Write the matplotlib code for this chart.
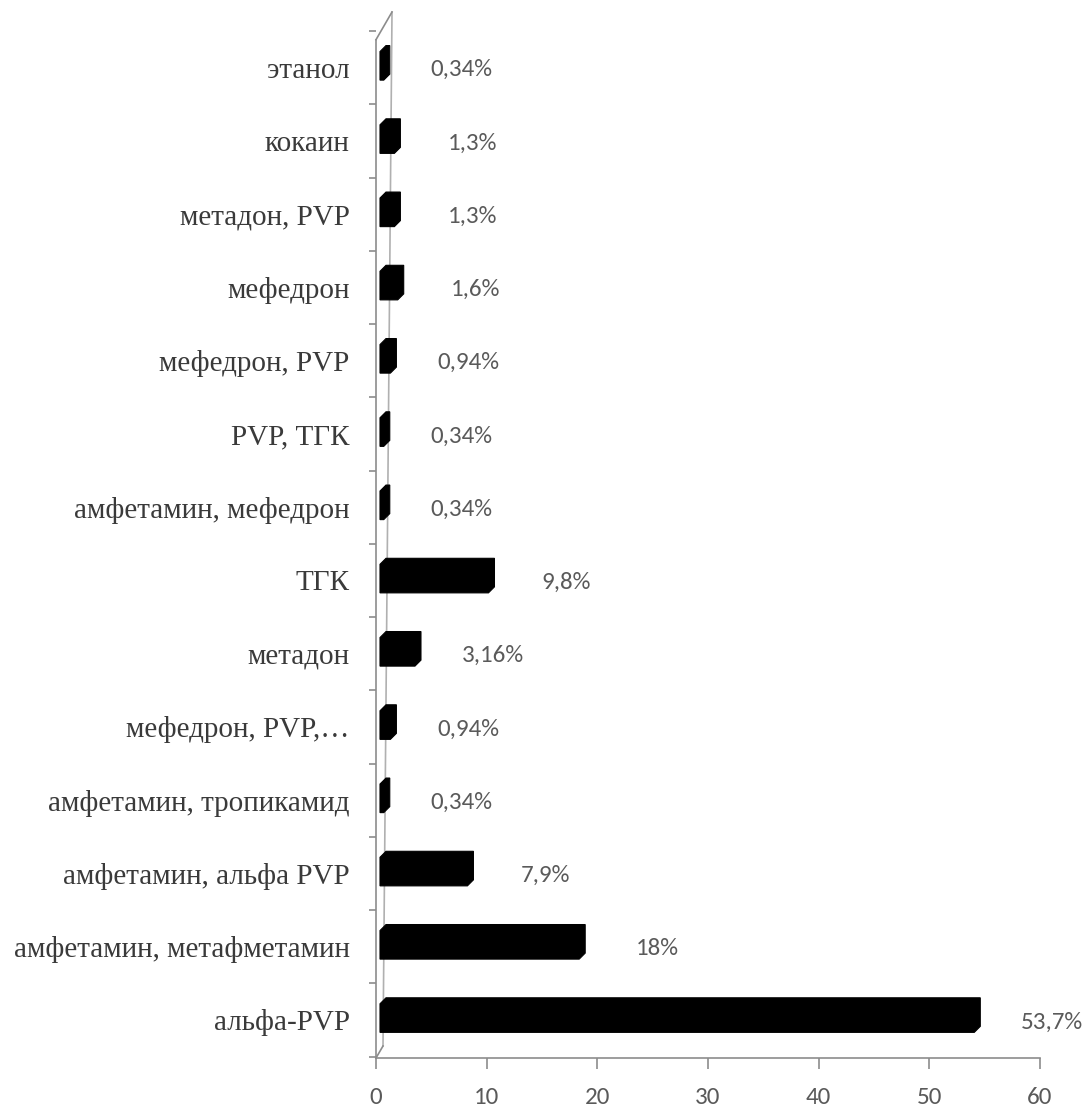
import matplotlib
matplotlib.use("Agg")
import matplotlib.pyplot as plt
from matplotlib.patches import Polygon
from matplotlib import transforms

# categories listed bottom to top
categories = [
    "альфа-PVP",
    "амфетамин, метафметамин",
    "амфетамин, альфа PVP",
    "амфетамин, тропикамид",
    "мефедрон, PVP,…",
    "метадон",
    "ТГК",
    "амфетамин, мефедрон",
    "PVP, ТГК",
    "мефедрон, PVP",
    "мефедрон",
    "метадон, PVP",
    "кокаин",
    "этанол",
]
values = [53.7, 18, 7.9, 0.34, 0.94, 3.16, 9.8, 0.34, 0.34, 0.94, 1.6, 1.3, 1.3, 0.34]
value_labels = ["53,7%", "18%", "7,9%", "0,34%", "0,94%", "3,16%", "9,8%",
                "0,34%", "0,34%", "0,94%", "1,6%", "1,3%", "1,3%", "0,34%"]
x_ticks = [0, 10, 20, 30, 40, 50, 60]

W, H = 1083, 1117
fig = plt.figure(figsize=(W / 100, H / 100), dpi=100)
left_px, right_px, top_px, bottom_px = 376, 1040, 12, 1058
ax = fig.add_axes([left_px / W, 1 - bottom_px / H,
                   (right_px - left_px) / W, (bottom_px - top_px) / H])
ax.set_xlim(0, 60)
ax.set_ylim(-0.52, 13.76)

# pixel -> data scale, used for the 3D depth of the boxes
px_x = 60 / (right_px - left_px)
px_y = (13.76 + 0.52) / (bottom_px - top_px)
dx, dy = 6 * px_x, 6 * px_y

grey = "#8c8c8c"
num_font = ["Carlito", "DejaVu Sans"]
# boxes sit a few pixels in front of the wall
bar_tr = transforms.offset_copy(ax.transData, fig=fig, x=4, y=0, units="dots")
for i, v in enumerate(values):
    y0, y1 = i - 0.17, i + 0.22
    pts = [(0, y0), (v, y0), (v + dx, y0 + dy), (v + dx, y1 + dy),
           (dx, y1 + dy), (0, y1)]
    ax.add_patch(Polygon(pts, closed=True, facecolor="black",
                         edgecolor="black", linewidth=0.8, transform=bar_tr,
                         zorder=3))
    ax.annotate(value_labels[i], (v, i), xytext=(82, -2),
                textcoords="offset pixels", ha="center", va="center",
                fontsize=18, color="#5a5a5a", family=num_font)

# slanted back wall on the left
wall_top = 13 + 28 * px_y
ax.plot([0, 0], [-0.52, wall_top], color=grey, lw=1.2, clip_on=False, zorder=1)
ax.plot([7 * px_x, 16 * px_x], [-0.52 + 12 * px_y, 13.76], color="#b0b0b0",
        lw=1.2, clip_on=False, zorder=1)
ax.plot([0, 16 * px_x], [wall_top, 13.76], color=grey, lw=1.2, clip_on=False,
        zorder=1)
ax.plot([0, 7 * px_x], [-0.52, -0.52 + 12 * px_y], color=grey, lw=1.2,
        clip_on=False, zorder=1)

for side in ["top", "right", "left"]:
    ax.spines[side].set_visible(False)
ax.spines["bottom"].set_color(grey)
ax.spines["bottom"].set_linewidth(1.2)

ax.set_xticks(x_ticks)
ax.set_xticklabels([str(t) for t in x_ticks], family=num_font)
ax.tick_params(axis="x", direction="out", length=8, width=1.2, color=grey,
               labelsize=18, labelcolor="#5a5a5a", pad=13)

ax.set_yticks(range(len(categories)))
ax.set_yticklabels(categories, family="Liberation Serif")
ax.tick_params(axis="y", which="major", length=0, pad=19, labelsize=21,
               labelcolor="#3a3a3a")
ax.set_yticks([i + 0.5 for i in range(-1, len(categories))], minor=True)
ax.tick_params(axis="y", which="minor", direction="out", length=5,
               width=1.2, color=grey)

fig.savefig("out.png", dpi=100)
